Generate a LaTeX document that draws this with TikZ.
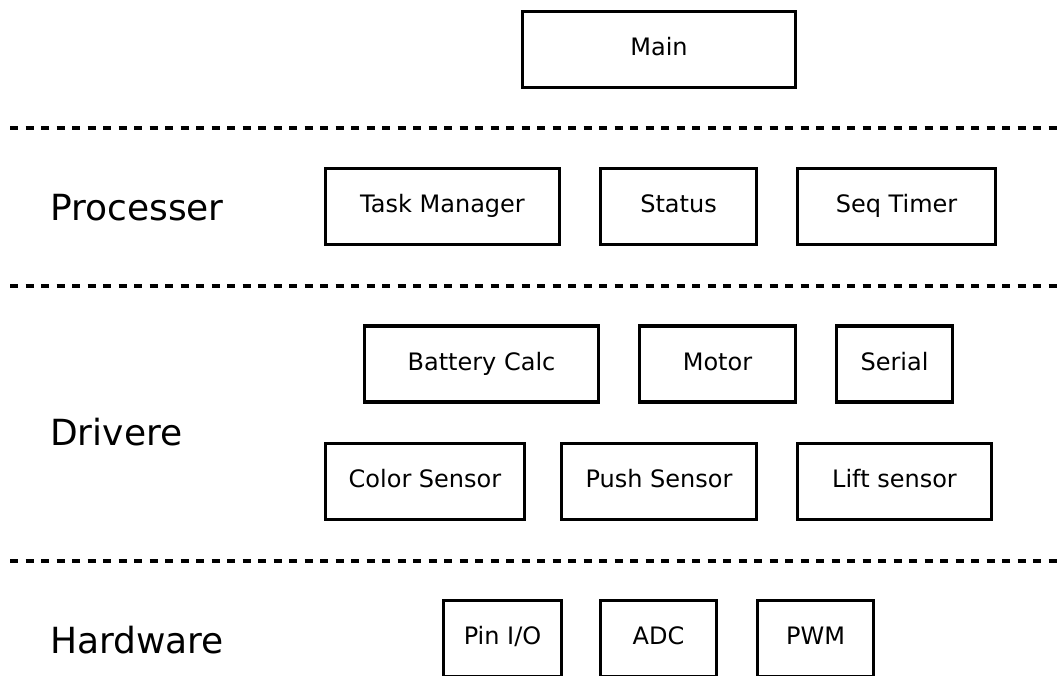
\documentclass[tikz,border=0pt]{standalone}
\usepackage{fontspec}
\setmainfont{DejaVu Sans}
\begin{document}
\begin{tikzpicture}[x=1pt,y=-1pt,
  module/.style={draw=black,line width=3.5pt,minimum height=76pt,inner sep=0pt,
    text height=17.5pt,text depth=5pt,
    font=\fontsize{24}{28}\selectfont},
  layer/.style={anchor=west,inner sep=0pt,font=\fontsize{36}{42}\selectfont},
  divider/.style={line width=3.5pt,dash pattern=on 8pt off 7.5pt}]
\clip (0,0) rectangle (1063,675);

% top level
\node[module,minimum width=273pt] (main) at (659,49.5) {Main};

% layer separators
\coordinate (d1l) at (10,128);  \coordinate (d1r) at (1063,128);
\coordinate (d2l) at (10,286);  \coordinate (d2r) at (1063,286);
\coordinate (d3l) at (10,561);  \coordinate (d3r) at (1063,561);
\draw[divider] (d1l) -- (d1r);
\draw[divider] (d2l) -- (d2r);
\draw[divider] (d3l) -- (d3r);

% processing layer
\node[layer] (lproc) at (50,208) {Processer};
\node[module,minimum width=234pt] (task) at (442.5,206.5) {Task Manager};
\node[module,minimum width=156pt] (status) at (678.5,206.5) {Status};
\node[module,minimum width=198pt] (seq) at (896.5,206.5) {Seq Timer};

% driver layer
\node[layer] (ldrv) at (50,432) {Drivere};
\node[module,minimum width=234pt] (batt) at (481.5,364) {Battery Calc};
\node[module,minimum width=156pt] (motor) at (717.5,364) {Motor};
\node[module,minimum width=116pt] (serial) at (894.5,364) {Serial};
\node[module,minimum width=199pt] (color) at (425,481.5) {Color Sensor};
\node[module,minimum width=195pt] (push) at (659,481.5) {Push Sensor};
\node[module,minimum width=194pt] (lift) at (894.5,481.5) {Lift sensor};

% hardware layer
\node[layer] (lhw) at (50,640) {Hardware};
\node[module,minimum width=118pt] (pin) at (502.5,638.5) {Pin I/O};
\node[module,minimum width=116pt] (adc) at (658.5,638.5) {ADC};
\node[module,minimum width=116pt] (pwm) at (815.5,638.5) {PWM};
\end{tikzpicture}
\end{document}
